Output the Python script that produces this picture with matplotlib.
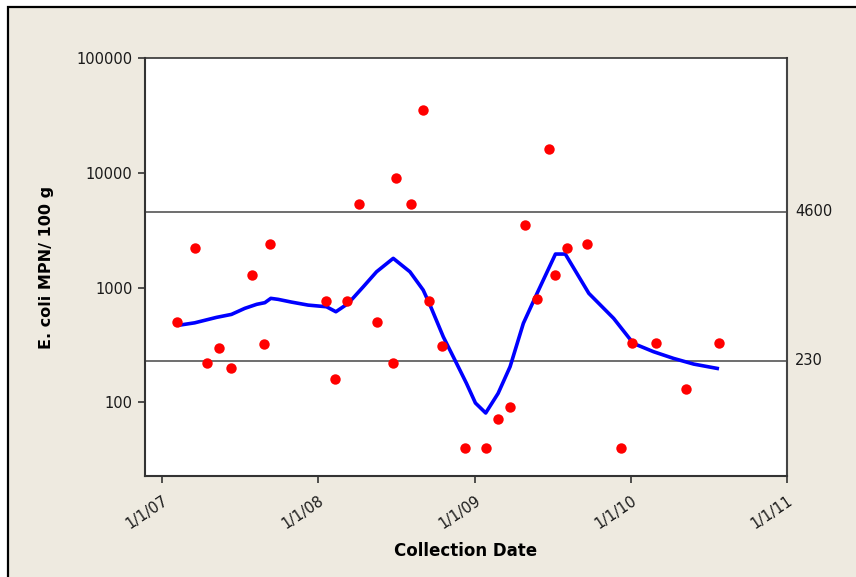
import matplotlib
matplotlib.use("Agg")
import matplotlib.pyplot as plt
import matplotlib.dates as mdates
from matplotlib.patches import Rectangle
import numpy as np
import pandas as pd

# ---- data ----
sample_dates = [
    "2007-02-06", "2007-03-20", "2007-04-17", "2007-05-16", "2007-06-12",
    "2007-07-31", "2007-08-28", "2007-09-11",
    "2008-01-20", "2008-02-10", "2008-03-10", "2008-04-06", "2008-05-19",
    "2008-06-24", "2008-07-01", "2008-08-05", "2008-09-03", "2008-09-17",
    "2008-10-16", "2008-12-10",
    "2009-01-28", "2009-02-25", "2009-03-24", "2009-04-29", "2009-05-27",
    "2009-06-23", "2009-07-08", "2009-08-04", "2009-09-21", "2009-12-08",
    "2010-01-04", "2010-03-02", "2010-05-10", "2010-07-26",
]
ecoli_mpn = [
    500, 2200, 220, 300, 200,
    1300, 320, 2400,
    770, 160, 770, 5400, 500,
    220, 9000, 5400, 35000, 770,
    310, 40,
    40, 72, 91, 3500, 790,
    16000, 1300, 2200, 2400, 40,
    330, 330, 130, 330,
]

trend_dates = [
    "2007-02-12", "2007-03-19", "2007-05-09", "2007-06-13", "2007-07-14",
    "2007-08-11", "2007-08-30", "2007-09-13", "2007-09-30", "2007-10-31",
    "2007-12-09", "2008-01-21", "2008-02-12", "2008-03-12", "2008-04-16",
    "2008-05-17", "2008-06-25", "2008-08-03", "2008-09-03", "2008-09-19",
    "2008-10-20", "2008-11-20", "2008-12-13", "2009-01-03", "2009-01-27",
    "2009-02-25", "2009-03-25", "2009-04-25", "2009-05-27", "2009-07-09",
    "2009-08-01", "2009-09-25", "2009-11-22", "2010-01-07", "2010-02-23",
    "2010-04-11", "2010-05-28", "2010-07-22",
]
trend_values = [
    472, 494, 551, 585, 660,
    716, 740, 807, 791, 749,
    705, 682, 617, 730, 1018,
    1375, 1800, 1375, 953, 705,
    373, 219, 147, 99, 81,
    120, 205, 489, 892, 1962,
    1962, 892, 540, 327, 277,
    242, 216, 198,
]

limit_values = [4600, 230]
limit_labels = ["4600", "230"]

y_ticks = [100, 1000, 10000, 100000]
y_tick_labels = ["100", "1000", "10000", "100000"]
x_ticks = ["2007-01-01", "2008-01-01", "2009-01-01", "2010-01-01", "2011-01-01"]
x_tick_labels = ["1/1/07", "1/1/08", "1/1/09", "1/1/10", "1/1/11"]

# ---- figure ----
W, H = 856, 577
fig = plt.figure(figsize=(W / 100, H / 100), dpi=100, facecolor="white")
bg = "#EEEAE0"
fig.patches.append(Rectangle((8 / W, -0.1), 1.2, (H - 7) / H + 0.1,
                             transform=fig.transFigure, facecolor=bg,
                             edgecolor="black", linewidth=1.6, zorder=-10))

ax = fig.add_axes([145 / W, 1 - 476 / H, (787 - 145) / W, (476 - 58) / H])
ax.set_facecolor("white")
ax.set_yscale("log")

sd = pd.to_datetime(sample_dates)
td = pd.to_datetime(trend_dates)

for v in limit_values:
    ax.axhline(v, color="#555555", linewidth=1.2, zorder=1)

ax.plot(td, trend_values, color="#0000FF", linewidth=2.6, zorder=2,
        solid_joinstyle="round")
ax.plot(sd, ecoli_mpn, linestyle="none", marker="o", markersize=7.5,
        color="#FF0000", markeredgewidth=0, zorder=3)

ax.set_xlim(pd.Timestamp("2006-11-23"), pd.Timestamp("2011-01-01"))
ax.set_ylim(22.9, 100000)

ax.yaxis.set_major_locator(matplotlib.ticker.FixedLocator(y_ticks))
ax.yaxis.set_major_formatter(matplotlib.ticker.FixedFormatter(y_tick_labels))
ax.yaxis.set_minor_locator(matplotlib.ticker.NullLocator())
ax.set_xticks(pd.to_datetime(x_ticks))
ax.set_xticklabels(x_tick_labels, rotation=34, ha="right", rotation_mode="anchor")

ax.tick_params(axis="both", which="major", direction="out", length=5,
               width=1.2, color="#333333", labelsize=10.5, labelcolor="#1a1a1a")
ax.tick_params(axis="y", pad=4)
ax.tick_params(axis="x", pad=7)

for s in ["left", "bottom"]:
    ax.spines[s].set_color("#333333")
    ax.spines[s].set_linewidth(1.5)
ax.spines["right"].set_color("#444444")
ax.spines["right"].set_linewidth(1.5)
ax.spines["top"].set_color("#333333")
ax.spines["top"].set_linewidth(1.2)

for v, lab in zip(limit_values, limit_labels):
    ax.annotate(lab, xy=(1, v), xycoords=("axes fraction", "data"),
                xytext=(6, 0), textcoords="offset points", ha="left",
                va="center", fontsize=10.5, color="#1a1a1a")

ax.set_xlabel("Collection Date", fontsize=12, fontweight="bold", labelpad=8)
ax.set_ylabel("E. coli MPN/ 100 g", fontsize=11.5, fontweight="bold", labelpad=16)

fig.savefig("out.png", dpi=100, facecolor=fig.get_facecolor())
